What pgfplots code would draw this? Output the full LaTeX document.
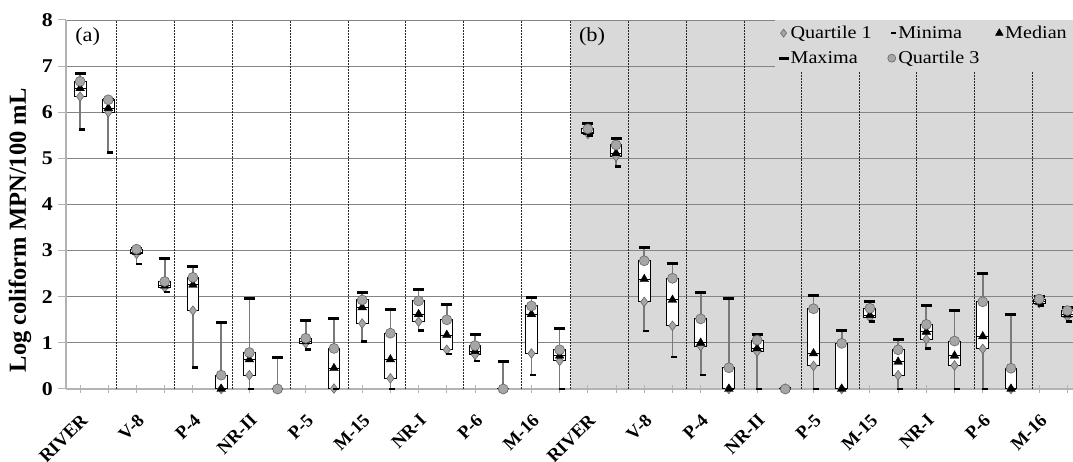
\documentclass[border=0pt]{standalone}
\usepackage{fontspec}
\setmainfont{Liberation Serif}
\newfontfamily\wideserif{Liberation Serif}[FakeStretch=1.12, BoldFeatures={FakeStretch=1.12}]
\usepackage{pgfplots}
\pgfplotsset{compat=1.18}
\usepackage{pgfplotstable}
\usepgfplotslibrary{statistics}
\definecolor{bggray}{HTML}{D9D9D9}
\definecolor{gridgray}{HTML}{858585}
\definecolor{whiskgray}{HTML}{7A7A7A}
\definecolor{mkgray}{HTML}{A6A6A6}
\definecolor{mkedge}{HTML}{666666}
\definecolor{axgray}{HTML}{B3B3B3}
\pgfplotsset{mybox/.style={
    boxplot/every box/.style={draw=black, fill=white, line width=1pt},
    boxplot/every whisker/.style={draw=whiskgray, line width=1.7pt},
    boxplot/every median/.style={draw=black, line width=1pt}}}

\pgfplotstableread{
x  lo    qa    md    qb    hi
0  5.63  6.34  6.52  6.67  6.85
1  5.13  6.00  6.09  6.27  6.28
2  2.71  2.93  2.97  3.03  3.05
3  2.10  2.20  2.24  2.33  2.83
4  0.47  1.70  2.26  2.42  2.65
5  0.00  0.00  0.00  0.30  1.44
6  0.00  0.30  0.64  0.79  1.97
7  0.00  0.00  0.00  0.00  0.69
8  0.85  0.99  1.03  1.10  1.48
9  0.00  0.01  0.45  0.88  1.52
10 1.03  1.42  1.77  1.93  2.09
11 0.00  0.23  0.64  1.21  1.73
12 1.27  1.46  1.62  1.91  2.15
13 0.76  0.85  1.17  1.50  1.84
14 0.61  0.74  0.82  0.94  1.19
15 0.00  0.00  0.00  0.00  0.60
16 0.30  0.77  1.62  1.80  1.99
17 0.00  0.61  0.72  0.85  1.32
18 5.50  5.53  5.57  5.64  5.76
19 4.83  5.04  5.11  5.29  5.44
20 1.26  1.89  2.38  2.78  3.07
21 0.69  1.37  1.93  2.40  2.71
22 0.30  0.93  1.00  1.52  2.09
23 0.00  0.00  0.00  0.46  1.97
24 0.00  0.81  0.88  1.06  1.19
25 0.00  0.00  0.00  0.00  0.00
26 0.00  0.50  0.77  1.74  2.03
27 0.00  0.00  0.00  0.99  1.26
28 1.46  1.55  1.60  1.75  1.89
29 0.00  0.30  0.59  0.85  1.08
30 0.88  1.08  1.24  1.40  1.80
31 0.00  0.51  0.72  1.04  1.70
32 0.00  0.87  1.14  1.89  2.51
33 0.00  0.00  0.00  0.45  1.61
34 1.81  1.86  1.89  1.95  2.00
35 1.46  1.57  1.61  1.70  1.77
}\data

\begin{document}
\begin{tikzpicture}
\begin{axis}[
  set layers,
  at={(0,0)}, anchor=south west,
  scale only axis, width=1007pt, height=369pt,
  xmin=-0.5, xmax=35.2, ymin=0, ymax=8,
  axis x line*=bottom, axis y line*=left,
  axis line style={axgray, line width=1.4pt},
  xtick={0,2,...,34}, minor xtick={1,3,...,35}, ytick={0,...,8},
  xtick align=center, ytick align=outside,
  major tick length=8pt, minor tick length=8pt,
  tick style={axgray, line width=1pt},
  minor tick style={axgray, line width=1pt},
  xticklabels={RIVER,V-8,P-4,NR-II,P-5,M-15,NR-I,P-6,M-16,RIVER,V-8,P-4,NR-II,P-5,M-15,NR-I,P-6,M-16},
  xticklabel style={rotate=45, anchor=north east, inner sep=0pt, font=\fontsize{18.5}{19}\selectfont\bfseries, yshift=-14pt, xshift=-14pt},
  yticklabel style={anchor=east, inner sep=0pt, font=\wideserif\fontsize{19.5}{20}\selectfont\bfseries, xshift=-5pt},
  /pgf/number format/assume math mode=true,
  ymajorgrids, major grid style={gridgray, line width=0.8pt},
  ylabel={Log coliform MPN/100 mL},
  every axis y label/.style={at={(axis description cs:-0.0457,0.43)}, rotate=90, anchor=center, font=\fontsize{24.5}{26}\selectfont\bfseries},
  boxplot/draw direction=y,
  legend columns=3,
  legend cell align=left,
  legend style={at={(1,1)}, anchor=north east, fill=bggray, draw=none,
    font=\wideserif\fontsize{18}{20}\selectfont, inner xsep=4pt, inner ysep=4pt, row sep=7pt,
    /tikz/every even column/.append style={column sep=14pt}},
]
\begin{pgfonlayer}{axis background}
\fill[bggray] (axis cs:17.394,0) rectangle (axis cs:35.2,8);
\end{pgfonlayer}
\foreach \xx in {1.287,3.343,5.399,7.455,9.50,11.545,13.588,15.633,17.394,19.436,21.48,23.54,25.58,27.61,29.66,31.70,33.76}{
  \edef\tmp{\noexpand\draw[black!85, line width=0.8pt, dash pattern=on 1.8pt off 1.2pt] (axis cs:\xx,0) -- (axis cs:\xx,8);}\tmp
}
\pgfplotsinvokeforeach{0,...,35}{
  \pgfplotstablegetelem{#1}{lo}\of\data \let\vlo\pgfplotsretval
  \pgfplotstablegetelem{#1}{qa}\of\data \let\vqa\pgfplotsretval
  \pgfplotstablegetelem{#1}{md}\of\data \let\vmd\pgfplotsretval
  \pgfplotstablegetelem{#1}{qb}\of\data \let\vqb\pgfplotsretval
  \pgfplotstablegetelem{#1}{hi}\of\data \let\vhi\pgfplotsretval
  \edef\tmp{\noexpand\addplot[forget plot, mybox,
    boxplot prepared={draw position=#1, lower whisker=\vlo, lower quartile=\vqa, median=\vmd, upper quartile=\vqb, upper whisker=\vhi, box extend=0.42, whisker extend=0}]
    coordinates {};}\tmp
}
\addplot[only marks, mark=diamond*, mark size=4.8pt, mark options={fill=mkgray, draw=mkedge, line width=0.6pt},
  legend image post style={mark size=4pt}] table[x=x,y=qa]{\data};
\addlegendentry{Quartile 1}
\addplot[only marks, mark=-, mark size=3pt, mark options={draw=black, line width=2.6pt, xshift=2pt},
  legend image post style={mark size=2.5pt}] table[x=x,y=lo]{\data};
\addlegendentry{Minima}
\addplot[only marks, mark=triangle*, mark size=5pt, mark options={fill=black, draw=black},
  legend image post style={mark size=4.5pt}] table[x=x,y=md]{\data};
\addlegendentry{Median}
\addplot[only marks, mark=-, mark size=5.5pt, mark options={draw=black, line width=3pt},
  legend image post style={mark size=5pt}] table[x=x,y=hi]{\data};
\addlegendentry{Maxima}
\addplot[only marks, mark=*, mark size=5pt, mark options={fill=mkgray, draw=mkedge, line width=0.6pt},
  legend image post style={mark size=4pt}] table[x=x,y=qb]{\data};
\addlegendentry{Quartile 3}
\node[font=\wideserif\fontsize{20}{22}\selectfont] at (axis cs:0.27,7.64) {(a)};
\node[font=\wideserif\fontsize{20}{22}\selectfont] at (axis cs:18.15,7.64) {(b)};
\end{axis}
\pgfresetboundingbox
\path[use as bounding box] (-66pt,-73pt) rectangle (1007pt,389pt);
\end{tikzpicture}
\end{document}
